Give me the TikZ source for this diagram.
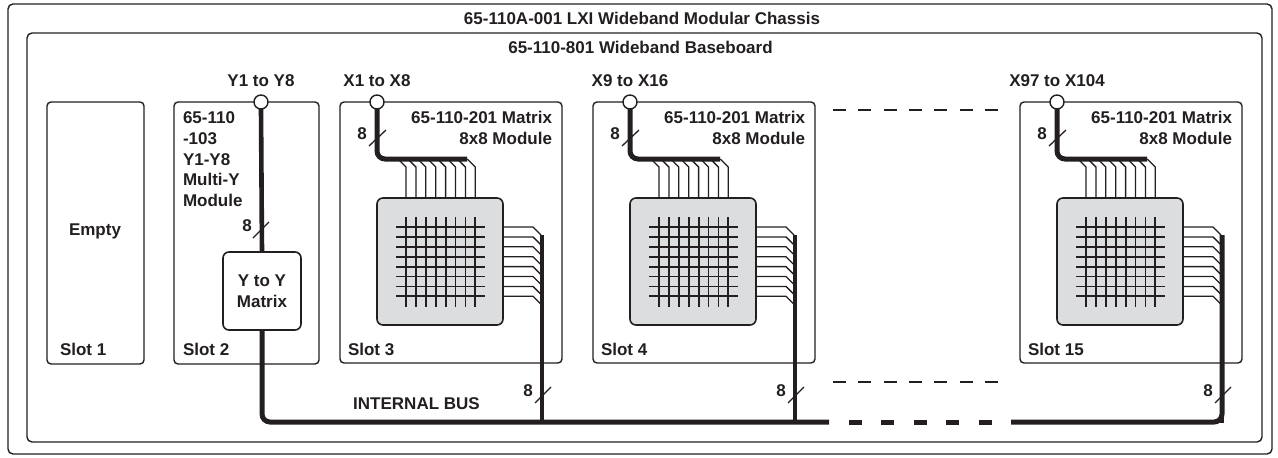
\documentclass[tikz,border=0pt]{standalone}
\usepackage{fontspec}
\setmainfont{Liberation Sans}
\definecolor{ink}{HTML}{231F20}
\definecolor{panel}{HTML}{DCDDDE}
\tikzset{
  x=1pt,y=-1pt,
  every node/.style={font=\fontsize{17}{20.7}\selectfont\bfseries,text=ink,inner sep=0pt,outer sep=0pt},
  boxed/.style={draw=ink,line width=1.4pt,rounded corners=4pt,anchor=north west,fill=white},
  frameout/.style={draw=ink,line width=1.4pt,rounded corners=5pt,anchor=north west},
  port/.style={circle,draw=ink,fill=white,line width=1.4pt,minimum size=14pt},
  bus/.style={draw=ink,line width=5pt,rounded corners=8pt},
  hbus/.style={draw=ink,line width=5pt},
  thin wire/.style={draw=ink,line width=1.3pt},
  grid wire/.style={draw=ink,line width=1.8pt},
  slash/.style={draw=ink,line width=1.3pt},
  gap line/.style={draw=ink,line width=1.3pt,dash pattern=on 13pt off 12.3pt},
}
\newcommand{\boxat}[6]{\node[#6,minimum width=#4pt,minimum height=#5pt] (#1) at (#2,#3) {};}
\begin{document}
\begin{tikzpicture}
\useasboundingbox (0,0) rectangle (1278,458);
\boxat{chassis}{8}{4}{1264}{450}{frameout}
\boxat{board}{27}{33}{1235}{409}{frameout}
\node (chassistitle) at (642,18) {65-110A-001 LXI Wideband Modular Chassis};
\node (boardtitle) at (640.5,47) {65-110-801 Wideband Baseboard};
% slots
\boxat{slotA}{47}{102}{97}{262}{boxed}
\boxat{slotB}{174}{102}{145}{262}{boxed}
\node (empty) at (95,231) {Empty};
\node[anchor=west] (slotAlabel) at (60,349) {Slot 1};
\node[anchor=west] (slotBlabel) at (183,349) {Slot 2};
\node[anchor=north west,align=left] (ytitle) at (183,112) {65-110\\-103\\Y1-Y8\\Multi-Y\\Module};
% matrix modules
\foreach \m/\dx/\inlabel/\slotname in {c/0/X1 to X8/Slot 3,d/253/X9 to X16/Slot 4,e/680/X97 to X104/Slot 15}{
\begin{scope}[shift={(\dx,0)}]
  \boxat{slot\m}{340}{102}{222}{261}{boxed}
  \node[anchor=west] (slotlabel\m) at (348,349) {\slotname};
  \node[align=right,anchor=north east] (title\m) at (552,111) {65-110-201 Matrix\\8x8 Module};
  \node (inlabel\m) at (377,81) {\inlabel};
  \node[draw=ink,line width=1.6pt,fill=panel,rounded corners=6pt,anchor=north west,minimum width=126pt,minimum height=127pt] (panel\m) at (377,198) {};
  \coordinate (inbusend\m) at (467,159);
  \coordinate (outbustop\m) at (542,235);
  \coordinate (outbusbot\m) at (542,423);
  \node[port] (port\m) at (377,102) {};
  \foreach \i in {0,...,7}{
    \pgfmathsetmacro{\px}{406+9.9*\i}
    \pgfmathsetmacro{\py}{227+9.9*\i}
    \draw[grid wire] (\px,217) -- (\px,307);
    \draw[grid wire] (396,\py) -- (485,\py);
    \draw[thin wire] (\px-8,159) -- (\px,167) -- (\px,197);
    \draw[thin wire] (504,\py) -- (533,\py) -- (541,\py+8);
  }
  \draw[bus] (port\m.south) |- (inbusend\m);
  \draw[draw=ink,line width=4.4pt] (outbustop\m) -- (outbusbot\m);
  \coordinate (sa\m) at (369,146); \coordinate (sb\m) at (386,130);
  \draw[slash] (sa\m) -- (sb\m);
  \node (eightin\m) at (362,134) {8};
  \coordinate (sc\m) at (535,403); \coordinate (sd\m) at (551,387);
  \draw[slash] (sc\m) -- (sd\m);
  \node (eightout\m) at (528,391) {8};
\end{scope}
}
% Y module
\node[port] (portb) at (261,102) {};
\node[draw=ink,line width=1.6pt,fill=white,rounded corners=6pt,anchor=north west,minimum width=78pt,minimum height=78pt,align=center] (ymatrix) at (223,252) {Y to Y\\Matrix};
\draw[draw=ink,line width=4.6pt] (portb.south) -- (ymatrix.north);
\draw[slash] (253,238) -- (269,222);
\node (eightb) at (247,226) {8};
\node (ylabel) at (261,81) {Y1 to Y8};
% bus
\coordinate (busgapL) at (829,422);
\coordinate (dashstart) at (849,422);
\coordinate (busgapR) at (1011,422);
\draw[bus] (ymatrix.south) |- (busgapL);
\draw[hbus,dash pattern=on 13pt off 19.4pt] (dashstart) -- (busgapR);
\draw[bus] (busgapR) -| (outbustope);
\node (busname) at (416.5,404) {INTERNAL BUS};
% gap lines
\coordinate (gt1) at (833,110); \coordinate (gt2) at (999,110);
\coordinate (gb1) at (833,382); \coordinate (gb2) at (999,382);
\draw[gap line] (gt1) -- (gt2);
\draw[gap line] (gb1) -- (gb2);
\end{tikzpicture}
\end{document}
